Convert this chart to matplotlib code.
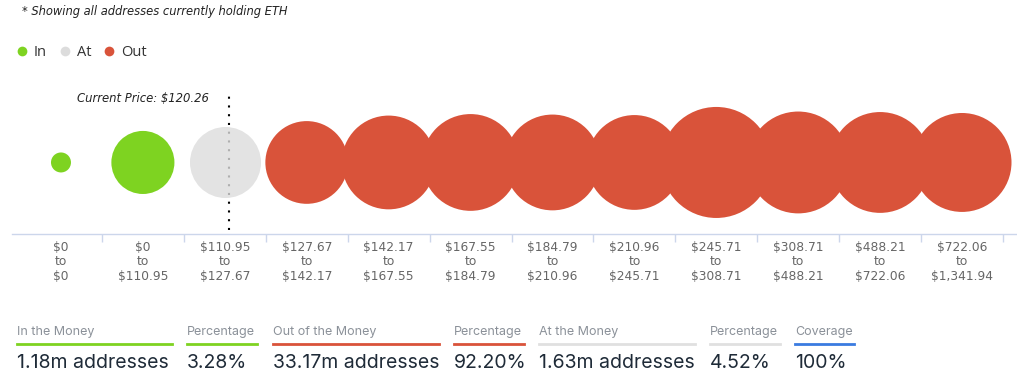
import numpy as np
import matplotlib
matplotlib.use("Agg")
import matplotlib.pyplot as plt
from matplotlib.lines import Line2D

# price buckets (USD) and number of addresses in each (millions)
bucket_low = [0, 0, 110.95, 127.67, 142.17, 167.55, 184.79, 210.96, 245.71, 308.71, 488.21, 722.06]
bucket_high = [0, 110.95, 127.67, 142.17, 167.55, 184.79, 210.96, 245.71, 308.71, 488.21, 722.06, 1341.94]
addresses_m = [0.0023, 1.1777, 1.63, 2.43, 3.33, 3.60, 3.51, 3.42, 5.02, 4.08, 3.98, 3.80]
status = ["In", "In", "At", "Out", "Out", "Out", "Out", "Out", "Out", "Out", "Out", "Out"]
current_price = 120.26

summary_headers = ["In the Money", "Percentage", "Out of the Money", "Percentage",
                   "At the Money", "Percentage", "Coverage"]
summary_values = ["1.18m addresses", "3.28%", "33.17m addresses", "92.20%",
                  "1.63m addresses", "4.52%", "100%"]

GREEN = "#7ed321"
GREY = "#dcdcdc"
RED = "#d9533a"
BLUE = "#3a7be0"
colors = {"In": GREEN, "At": GREY, "Out": RED}

W, H = 1017, 388


def fx(px):
    return px / W


def fy(py):
    return 1 - py / H


def money(v):
    return "${:,.2f}".format(v) if v else "$0"


fig = plt.figure(figsize=(W / 100, H / 100), dpi=100)
ax = fig.add_axes([fx(12), fy(234), fx(1017 - 12), (234 - 88) / H])

# bubble radius in px: min size + sqrt scaling
x = np.arange(len(addresses_m))
radius_px = 9 + 20.76 * np.sqrt(np.array(addresses_m))
sizes = (2 * radius_px * 0.72) ** 2

for st in ["In", "At", "Out"]:
    idx = [i for i, s in enumerate(status) if s == st]
    ax.scatter(x[idx], [0.49] * len(idx), s=sizes[idx], color=colors[st],
               alpha=0.8 if st == "At" else 1.0, linewidths=0, zorder=3, clip_on=False)

# current price marker inside its bucket
k = next(i for i in range(len(bucket_low)) if bucket_low[i] <= current_price < bucket_high[i] and i > 0)
px = k - 0.5 + (current_price - bucket_low[k]) / (bucket_high[k] - bucket_low[k])
ax.plot([px, px], [0.027, 0.973], color="black", lw=1.5, linestyle=(0, (1, 3.2)), zorder=2)
ax.annotate("Current Price: ${:.2f}".format(current_price), xy=(px, 0.973),
            xytext=(-15, -4.5), textcoords="offset points", ha="right", va="center",
            fontsize=8.4, style="italic", color="#222222")

ax.set_xlim(-0.598, 11.671)
ax.set_ylim(0, 1)
for s in ["top", "left", "right"]:
    ax.spines[s].set_visible(False)
ax.spines["bottom"].set_color("#ccd6eb")
ax.spines["bottom"].set_linewidth(1)
ax.set_yticks([])
ax.set_xticks(np.arange(len(x)) + 0.5)
ax.set_xticklabels([])
ax.tick_params(axis="x", which="major", length=6, color="#ccd6eb", width=1)
labels = ["{}\nto\n{}".format(money(a), money(b)) for a, b in zip(bucket_low, bucket_high)]
ax.set_xticks(x, labels=labels, minor=True)
ax.tick_params(axis="x", which="minor", length=0, pad=5, labelsize=8.8, labelcolor="#666666")
for t in ax.get_xticklabels(minor=True):
    t.set_linespacing(1.15)

# header note and legend
fig.text(fx(22), fy(12), "* Showing all addresses currently holding ETH", fontsize=8.3,
         style="italic", color="#222222", va="center")
handles = [Line2D([], [], marker="o", linestyle="none", markersize=7, color=colors[s],
                  markeredgewidth=0) for s in ["In", "At", "Out"]]
fig.legend(handles, ["In", "At", "Out"], loc="center left", bbox_to_anchor=(fx(17), fy(53)),
           ncol=3, frameon=False, handlelength=0.7, handletextpad=0.45, columnspacing=0.9,
           borderaxespad=0, borderpad=0, prop={"family": "Open Sans", "size": 10.5},
           labelcolor="#333333")

# summary table below the chart
col_x = [17, 187, 273, 454, 539, 710, 795]
col_end = [172, 257, 439, 524, 695, 780, 854]
col_color = [GREEN, GREEN, RED, RED, "#e0e0e0", "#e0e0e0", BLUE]
for hx, he, head, val, c in zip(col_x, col_end, summary_headers, summary_values, col_color):
    fig.text(fx(hx), fy(332), head, fontsize=9, family="Inter", color="#8b9199", va="center")
    fig.add_artist(Line2D([fx(hx), fx(he)], [fy(344), fy(344)], color=c, lw=2,
                          transform=fig.transFigure))
    fig.text(fx(hx), fy(363), val, fontsize=14, family="Inter", color="#1f2b38", va="center")

fig.savefig("out.png", dpi=100)
